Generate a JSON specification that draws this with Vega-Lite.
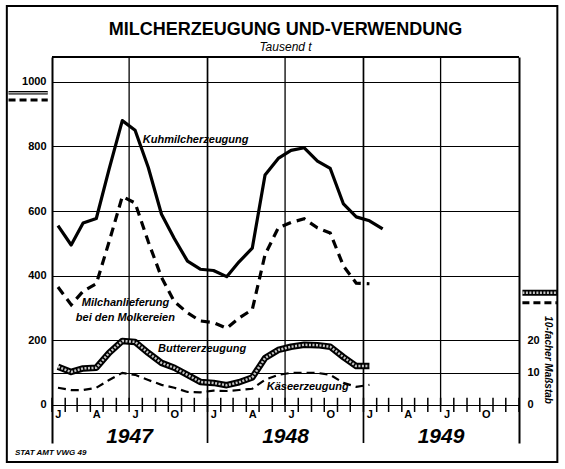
{
  "$schema": "https://vega.github.io/schema/vega-lite/v6.json",
  "width": 467,
  "height": 386,
  "autosize": {"type": "none"},
  "padding": {"left": 52, "top": 57, "right": 46, "bottom": 26},
  "background": "white",
  "config": {"view": {"stroke": null}, "font": "Liberation Sans"},
  "title": {"text": "MILCHERZEUGUNG UND-VERWENDUNG", "subtitle": "Tausend t", "frame": "group", "fontSize": 18, "fontWeight": "bold", "font": "Liberation Sans", "color": "black", "subtitleFont": "Liberation Sans", "subtitleFontStyle": "italic", "subtitleFontSize": 12, "subtitleColor": "black", "subtitlePadding": 3, "anchor": "middle", "offset": 4, "dy": 52},
  "datasets": {
    "kuh": [
      {"d": "1947-01-15", "v": 555}, {"d": "1947-02-15", "v": 495}, {"d": "1947-03-15", "v": 563}, {"d": "1947-04-15", "v": 577},
      {"d": "1947-05-15", "v": 730}, {"d": "1947-06-15", "v": 880}, {"d": "1947-07-15", "v": 850}, {"d": "1947-08-15", "v": 735},
      {"d": "1947-09-15", "v": 590}, {"d": "1947-10-15", "v": 515}, {"d": "1947-11-15", "v": 445}, {"d": "1947-12-15", "v": 420},
      {"d": "1948-01-15", "v": 416}, {"d": "1948-02-15", "v": 397}, {"d": "1948-03-15", "v": 443}, {"d": "1948-04-15", "v": 485},
      {"d": "1948-05-15", "v": 712}, {"d": "1948-06-15", "v": 763}, {"d": "1948-07-15", "v": 788}, {"d": "1948-08-15", "v": 796},
      {"d": "1948-09-15", "v": 755}, {"d": "1948-10-15", "v": 732}, {"d": "1948-11-15", "v": 622}, {"d": "1948-12-15", "v": 582},
      {"d": "1949-01-15", "v": 570}, {"d": "1949-02-15", "v": 545}
    ],
    "anl": [
      {"d": "1947-01-15", "v": 365}, {"d": "1947-02-15", "v": 310}, {"d": "1947-03-15", "v": 352}, {"d": "1947-04-15", "v": 375},
      {"d": "1947-05-15", "v": 505}, {"d": "1947-06-15", "v": 645}, {"d": "1947-07-15", "v": 625}, {"d": "1947-08-15", "v": 505},
      {"d": "1947-09-15", "v": 395}, {"d": "1947-10-15", "v": 320}, {"d": "1947-11-15", "v": 285}, {"d": "1947-12-15", "v": 260},
      {"d": "1948-01-15", "v": 255}, {"d": "1948-02-15", "v": 237}, {"d": "1948-03-15", "v": 269}, {"d": "1948-04-15", "v": 295},
      {"d": "1948-05-15", "v": 465}, {"d": "1948-06-15", "v": 548}, {"d": "1948-07-15", "v": 565}, {"d": "1948-08-15", "v": 576},
      {"d": "1948-09-15", "v": 548}, {"d": "1948-10-15", "v": 532}, {"d": "1948-11-15", "v": 430}, {"d": "1948-12-15", "v": 377},
      {"d": "1949-01-15", "v": 375}
    ],
    "butter": [
      {"d": "1947-01-15", "v": 11.8}, {"d": "1947-02-15", "v": 10.2}, {"d": "1947-03-15", "v": 11.3}, {"d": "1947-04-15", "v": 11.5},
      {"d": "1947-05-15", "v": 16.1}, {"d": "1947-06-15", "v": 19.8}, {"d": "1947-07-15", "v": 19.5}, {"d": "1947-08-15", "v": 16.1},
      {"d": "1947-09-15", "v": 13.0}, {"d": "1947-10-15", "v": 11.5}, {"d": "1947-11-15", "v": 9.3}, {"d": "1947-12-15", "v": 7.1},
      {"d": "1948-01-15", "v": 6.8}, {"d": "1948-02-15", "v": 6.1}, {"d": "1948-03-15", "v": 7.0}, {"d": "1948-04-15", "v": 8.5},
      {"d": "1948-05-15", "v": 14.5}, {"d": "1948-06-15", "v": 17.0}, {"d": "1948-07-15", "v": 18.0}, {"d": "1948-08-15", "v": 18.6},
      {"d": "1948-09-15", "v": 18.5}, {"d": "1948-10-15", "v": 18.0}, {"d": "1948-11-15", "v": 14.8}, {"d": "1948-12-15", "v": 12.0},
      {"d": "1949-01-15", "v": 12.0}
    ],
    "kaese": [
      {"d": "1947-01-15", "v": 5.3}, {"d": "1947-02-15", "v": 4.6}, {"d": "1947-03-15", "v": 4.6}, {"d": "1947-04-15", "v": 5.3},
      {"d": "1947-05-15", "v": 7.7}, {"d": "1947-06-15", "v": 9.9}, {"d": "1947-07-15", "v": 9.3}, {"d": "1947-08-15", "v": 7.7},
      {"d": "1947-09-15", "v": 6.2}, {"d": "1947-10-15", "v": 5.3}, {"d": "1947-11-15", "v": 4.0}, {"d": "1947-12-15", "v": 3.9},
      {"d": "1948-01-15", "v": 4.4}, {"d": "1948-02-15", "v": 4.3}, {"d": "1948-03-15", "v": 4.6}, {"d": "1948-04-15", "v": 5.0},
      {"d": "1948-05-15", "v": 7.8}, {"d": "1948-06-15", "v": 9.3}, {"d": "1948-07-15", "v": 9.9}, {"d": "1948-08-15", "v": 9.9},
      {"d": "1948-09-15", "v": 9.9}, {"d": "1948-10-15", "v": 9.3}, {"d": "1948-11-15", "v": 6.8}, {"d": "1948-12-15", "v": 5.6},
      {"d": "1949-01-15", "v": 6.2}
    ],
    "half": [{"d": "1947-07-01"}, {"d": "1948-07-01"}, {"d": "1949-07-01"}],
    "ybound": [{"d": "1948-01-01"}, {"d": "1949-01-01"}],
    "mstart": [
      {"d": "1947-01-01"}, {"d": "1947-02-01"}, {"d": "1947-03-01"}, {"d": "1947-04-01"}, {"d": "1947-05-01"}, {"d": "1947-06-01"},
      {"d": "1947-07-01"}, {"d": "1947-08-01"}, {"d": "1947-09-01"}, {"d": "1947-10-01"}, {"d": "1947-11-01"}, {"d": "1947-12-01"},
      {"d": "1948-01-01"}, {"d": "1948-02-01"}, {"d": "1948-03-01"}, {"d": "1948-04-01"}, {"d": "1948-05-01"}, {"d": "1948-06-01"},
      {"d": "1948-07-01"}, {"d": "1948-08-01"}, {"d": "1948-09-01"}, {"d": "1948-10-01"}, {"d": "1948-11-01"}, {"d": "1948-12-01"},
      {"d": "1949-01-01"}, {"d": "1949-02-01"}, {"d": "1949-03-01"}, {"d": "1949-04-01"}, {"d": "1949-05-01"}, {"d": "1949-06-01"},
      {"d": "1949-07-01"}, {"d": "1949-08-01"}, {"d": "1949-09-01"}, {"d": "1949-10-01"}, {"d": "1949-11-01"}, {"d": "1949-12-01"},
      {"d": "1950-01-01"}
    ],
    "mlab": [
      {"d": "1947-01-16", "t": "J"}, {"d": "1947-04-16", "t": "A"}, {"d": "1947-07-16", "t": "J"}, {"d": "1947-10-16", "t": "O"},
      {"d": "1948-01-16", "t": "J"}, {"d": "1948-04-16", "t": "A"}, {"d": "1948-07-16", "t": "J"}, {"d": "1948-10-16", "t": "O"},
      {"d": "1949-01-16", "t": "J"}, {"d": "1949-04-16", "t": "A"}, {"d": "1949-07-16", "t": "J"}, {"d": "1949-10-16", "t": "O"}
    ],
    "ylab": [{"d": "1947-07-02", "t": "1947"}, {"d": "1948-07-02", "t": "1948"}, {"d": "1949-07-02", "t": "1949"}],
    "notes": [
      {"d": "1947-08-02", "v": 820, "t": "Kuhmilcherzeugung"},
      {"d": "1947-03-12", "v": 316, "t": "Milchanlieferung"},
      {"d": "1947-02-26", "v": 269, "t": "bei den Molkereien"},
      {"d": "1947-09-07", "v": 173, "t": "Buttererzeugung"},
      {"d": "1948-05-19", "v": 56, "t": "Käseerzeugung"}
    ]
  },
  "layer": [
    {
      "data": {"name": "kuh"},
      "mark": {"type": "line", "stroke": "black", "strokeWidth": 3.2, "strokeJoin": "round"},
      "encoding": {
        "x": {"field": "d", "type": "temporal", "scale": {"type": "utc", "domain": [{"year": 1947, "month": 1, "date": 1, "utc": true}, {"year": 1950, "month": 1, "date": 1, "utc": true}]}, "axis": null},
        "y": {"field": "v", "type": "quantitative", "scale": {"domain": [-118, 1077], "nice": false, "zero": false},
          "axis": {"orient": "left", "values": [0, 100, 200, 400, 600, 800, 1000], "labelExpr": "datum.value == 100 ? '' : datum.label", "format": "d", "grid": true, "gridColor": "black", "gridWidth": 1.2, "gridOpacity": 1, "ticks": false, "domain": true, "domainColor": "black", "domainWidth": 2, "labelFont": "Liberation Sans", "labelFontSize": 11, "labelFontWeight": "bold", "labelColor": "black", "labelPadding": 6, "title": null}}
      }
    },
    {
      "data": {"name": "half"},
      "mark": {"type": "rule", "stroke": "black", "strokeWidth": 1.3},
      "encoding": {
        "x": {"field": "d", "type": "temporal", "scale": {"type": "utc", "domain": [{"year": 1947, "month": 1, "date": 1, "utc": true}, {"year": 1950, "month": 1, "date": 1, "utc": true}]}, "axis": null},
        "y": {"datum": 0, "type": "quantitative", "scale": {"domain": [-118, 1077], "nice": false, "zero": false}, "axis": null},
        "y2": {"datum": 1077}
      }
    },
    {
      "data": {"name": "ybound"},
      "mark": {"type": "rule", "stroke": "black", "strokeWidth": 1.7},
      "encoding": {
        "x": {"field": "d", "type": "temporal", "scale": {"type": "utc", "domain": [{"year": 1947, "month": 1, "date": 1, "utc": true}, {"year": 1950, "month": 1, "date": 1, "utc": true}]}, "axis": null},
        "y": {"datum": -118, "type": "quantitative", "scale": {"domain": [-118, 1077], "nice": false, "zero": false}, "axis": null},
        "y2": {"datum": 1077}
      }
    },
    {
      "data": {"values": [{}]},
      "mark": {"type": "rule", "stroke": "black", "strokeWidth": 2},
      "encoding": {
        "x": {"datum": {"year": 1947, "month": 1, "date": 1, "utc": true}, "type": "temporal", "scale": {"type": "utc", "domain": [{"year": 1947, "month": 1, "date": 1, "utc": true}, {"year": 1950, "month": 1, "date": 1, "utc": true}]}, "axis": null},
        "x2": {"datum": {"year": 1950, "month": 1, "date": 1, "utc": true}},
        "y": {"datum": 1077, "type": "quantitative", "scale": {"domain": [-118, 1077], "nice": false, "zero": false}, "axis": null}
      }
    },
    {
      "data": {"name": "mstart"},
      "mark": {"type": "rule", "stroke": "black", "strokeWidth": 1.5},
      "encoding": {
        "x": {"field": "d", "type": "temporal", "scale": {"type": "utc", "domain": [{"year": 1947, "month": 1, "date": 1, "utc": true}, {"year": 1950, "month": 1, "date": 1, "utc": true}]}, "axis": null},
        "y": {"datum": 22, "type": "quantitative", "scale": {"domain": [-118, 1077], "nice": false, "zero": false}, "axis": null},
        "y2": {"datum": -22}
      }
    },
    {
      "data": {"name": "anl"},
      "mark": {"type": "line", "stroke": "black", "strokeWidth": 3.2, "strokeDash": [9, 6]},
      "encoding": {
        "x": {"field": "d", "type": "temporal", "scale": {"type": "utc", "domain": [{"year": 1947, "month": 1, "date": 1, "utc": true}, {"year": 1950, "month": 1, "date": 1, "utc": true}]}, "axis": null},
        "y": {"field": "v", "type": "quantitative", "scale": {"domain": [-118, 1077], "nice": false, "zero": false}, "axis": null}
      }
    },
    {
      "data": {"name": "notes"},
      "mark": {"type": "text", "align": "left", "baseline": "middle", "font": "Liberation Sans", "fontStyle": "italic", "fontWeight": "bold", "fontSize": 11, "color": "black"},
      "encoding": {
        "x": {"field": "d", "type": "temporal", "scale": {"type": "utc", "domain": [{"year": 1947, "month": 1, "date": 1, "utc": true}, {"year": 1950, "month": 1, "date": 1, "utc": true}]}, "axis": null},
        "y": {"field": "v", "type": "quantitative", "scale": {"domain": [-118, 1077], "nice": false, "zero": false}, "axis": null},
        "text": {"field": "t"}
      }
    },
    {
      "data": {"name": "mlab"},
      "mark": {"type": "text", "align": "center", "baseline": "middle", "font": "Liberation Sans", "fontWeight": "bold", "fontSize": 11, "color": "black"},
      "encoding": {
        "x": {"field": "d", "type": "temporal", "scale": {"type": "utc", "domain": [{"year": 1947, "month": 1, "date": 1, "utc": true}, {"year": 1950, "month": 1, "date": 1, "utc": true}]}, "axis": null},
        "y": {"datum": -31, "type": "quantitative", "scale": {"domain": [-118, 1077], "nice": false, "zero": false}, "axis": null},
        "text": {"field": "t"}
      }
    },
    {
      "data": {"name": "ylab"},
      "mark": {"type": "text", "align": "center", "baseline": "middle", "font": "Liberation Sans", "fontWeight": "bold", "fontStyle": "italic", "fontSize": 21, "color": "black"},
      "encoding": {
        "x": {"field": "d", "type": "temporal", "scale": {"type": "utc", "domain": [{"year": 1947, "month": 1, "date": 1, "utc": true}, {"year": 1950, "month": 1, "date": 1, "utc": true}]}, "axis": null},
        "y": {"datum": -99, "type": "quantitative", "scale": {"domain": [-118, 1077], "nice": false, "zero": false}, "axis": null},
        "text": {"field": "t"}
      }
    },
    {
      "data": {"values": [{}]},
      "mark": {"type": "rule", "stroke": "black", "strokeWidth": 3.5},
      "encoding": {
        "x": {"datum": {"year": 1946, "month": 9, "date": 21, "utc": true}, "type": "temporal", "scale": {"type": "utc", "domain": [{"year": 1947, "month": 1, "date": 1, "utc": true}, {"year": 1950, "month": 1, "date": 1, "utc": true}]}, "axis": null},
        "x2": {"datum": {"year": 1946, "month": 12, "date": 22, "utc": true}},
        "y": {"datum": 966, "type": "quantitative", "scale": {"domain": [-118, 1077], "nice": false, "zero": false}, "axis": null}
      }
    },
    {
      "data": {"values": [{}]},
      "mark": {"type": "rule", "stroke": "white", "strokeWidth": 1},
      "encoding": {
        "x": {"datum": {"year": 1946, "month": 9, "date": 21, "utc": true}, "type": "temporal", "scale": {"type": "utc", "domain": [{"year": 1947, "month": 1, "date": 1, "utc": true}, {"year": 1950, "month": 1, "date": 1, "utc": true}]}, "axis": null},
        "x2": {"datum": {"year": 1946, "month": 12, "date": 22, "utc": true}},
        "y": {"datum": 966, "type": "quantitative", "scale": {"domain": [-118, 1077], "nice": false, "zero": false}, "axis": null}
      }
    },
    {
      "data": {"values": [{}]},
      "mark": {"type": "rule", "stroke": "black", "strokeWidth": 3, "strokeDash": [7, 4]},
      "encoding": {
        "x": {"datum": {"year": 1946, "month": 9, "date": 21, "utc": true}, "type": "temporal", "scale": {"type": "utc", "domain": [{"year": 1947, "month": 1, "date": 1, "utc": true}, {"year": 1950, "month": 1, "date": 1, "utc": true}]}, "axis": null},
        "x2": {"datum": {"year": 1946, "month": 12, "date": 22, "utc": true}},
        "y": {"datum": 944, "type": "quantitative", "scale": {"domain": [-118, 1077], "nice": false, "zero": false}, "axis": null}
      }
    },
    {
      "data": {"values": [{}]},
      "mark": {"type": "text", "text": "STAT AMT VWG 49", "align": "left", "baseline": "middle", "font": "Liberation Sans", "fontWeight": "bold", "fontStyle": "italic", "fontSize": 8, "color": "black"},
      "encoding": {
        "x": {"datum": {"year": 1946, "month": 10, "date": 6, "utc": true}, "type": "temporal", "scale": {"type": "utc", "domain": [{"year": 1947, "month": 1, "date": 1, "utc": true}, {"year": 1950, "month": 1, "date": 1, "utc": true}]}, "axis": null},
        "y": {"datum": -149, "type": "quantitative", "scale": {"domain": [-118, 1077], "nice": false, "zero": false}, "axis": null}
      }
    },
    {
      "data": {"values": [{}]},
      "mark": {"type": "rect", "fillOpacity": 0, "stroke": "black", "strokeWidth": 2},
      "encoding": {
        "x": {"datum": {"year": 1946, "month": 9, "date": 17, "utc": true}, "type": "temporal", "scale": {"type": "utc", "domain": [{"year": 1947, "month": 1, "date": 1, "utc": true}, {"year": 1950, "month": 1, "date": 1, "utc": true}]}, "axis": null},
        "x2": {"datum": {"year": 1950, "month": 4, "date": 1, "utc": true}},
        "y": {"datum": 1235, "type": "quantitative", "scale": {"domain": [-118, 1077], "nice": false, "zero": false}, "axis": null},
        "y2": {"datum": -177}
      }
    },
    {
      "data": {"name": "butter"},
      "mark": {"type": "line", "stroke": "black", "strokeWidth": 6.5, "strokeJoin": "round"},
      "encoding": {
        "x": {"field": "d", "type": "temporal", "scale": {"type": "utc", "domain": [{"year": 1947, "month": 1, "date": 1, "utc": true}, {"year": 1950, "month": 1, "date": 1, "utc": true}]}, "axis": null},
        "y": {"field": "v", "type": "quantitative", "scale": {"domain": [-11.8, 107.7], "nice": false, "zero": false},
          "axis": {"orient": "right", "values": [0, 10, 20], "format": "d", "grid": false, "ticks": false, "domain": true, "domainColor": "black", "domainWidth": 2, "labelFont": "Liberation Sans", "labelFontSize": 11, "labelFontWeight": "bold", "labelColor": "black", "labelPadding": 8, "title": null}}
      }
    },
    {
      "data": {"name": "butter"},
      "mark": {"type": "line", "stroke": "#c4c4c4", "strokeWidth": 2.5, "strokeDash": [2, 1.5], "strokeJoin": "round"},
      "encoding": {
        "x": {"field": "d", "type": "temporal", "scale": {"type": "utc", "domain": [{"year": 1947, "month": 1, "date": 1, "utc": true}, {"year": 1950, "month": 1, "date": 1, "utc": true}]}, "axis": null},
        "y": {"field": "v", "type": "quantitative", "scale": {"domain": [-11.8, 107.7], "nice": false, "zero": false}, "axis": null}
      }
    },
    {
      "data": {"name": "kaese"},
      "mark": {"type": "line", "stroke": "black", "strokeWidth": 2.2, "strokeDash": [8, 5]},
      "encoding": {
        "x": {"field": "d", "type": "temporal", "scale": {"type": "utc", "domain": [{"year": 1947, "month": 1, "date": 1, "utc": true}, {"year": 1950, "month": 1, "date": 1, "utc": true}]}, "axis": null},
        "y": {"field": "v", "type": "quantitative", "scale": {"domain": [-11.8, 107.7], "nice": false, "zero": false}, "axis": null}
      }
    },
    {
      "data": {"values": [{}]},
      "mark": {"type": "rule", "stroke": "black", "strokeWidth": 6},
      "encoding": {
        "x": {"datum": {"year": 1950, "month": 1, "date": 9, "utc": true}, "type": "temporal", "scale": {"type": "utc", "domain": [{"year": 1947, "month": 1, "date": 1, "utc": true}, {"year": 1950, "month": 1, "date": 1, "utc": true}]}, "axis": null},
        "x2": {"datum": {"year": 1950, "month": 3, "date": 31, "utc": true}},
        "y": {"datum": 34.7, "type": "quantitative", "scale": {"domain": [-11.8, 107.7], "nice": false, "zero": false}, "axis": null}
      }
    },
    {
      "data": {"values": [{}]},
      "mark": {"type": "rule", "stroke": "#c4c4c4", "strokeWidth": 2.5, "strokeDash": [2, 1.5]},
      "encoding": {
        "x": {"datum": {"year": 1950, "month": 1, "date": 9, "utc": true}, "type": "temporal", "scale": {"type": "utc", "domain": [{"year": 1947, "month": 1, "date": 1, "utc": true}, {"year": 1950, "month": 1, "date": 1, "utc": true}]}, "axis": null},
        "x2": {"datum": {"year": 1950, "month": 3, "date": 31, "utc": true}},
        "y": {"datum": 34.7, "type": "quantitative", "scale": {"domain": [-11.8, 107.7], "nice": false, "zero": false}, "axis": null}
      }
    },
    {
      "data": {"values": [{}]},
      "mark": {"type": "rule", "stroke": "black", "strokeWidth": 3, "strokeDash": [7, 4]},
      "encoding": {
        "x": {"datum": {"year": 1950, "month": 1, "date": 9, "utc": true}, "type": "temporal", "scale": {"type": "utc", "domain": [{"year": 1947, "month": 1, "date": 1, "utc": true}, {"year": 1950, "month": 1, "date": 1, "utc": true}]}, "axis": null},
        "x2": {"datum": {"year": 1950, "month": 3, "date": 31, "utc": true}},
        "y": {"datum": 31.6, "type": "quantitative", "scale": {"domain": [-11.8, 107.7], "nice": false, "zero": false}, "axis": null}
      }
    },
    {
      "data": {"values": [{}]},
      "mark": {"type": "text", "text": "10-facher Maßstab", "angle": 90, "align": "center", "baseline": "middle", "font": "Liberation Sans", "fontWeight": "bold", "fontStyle": "italic", "fontSize": 10, "color": "black"},
      "encoding": {
        "x": {"datum": {"year": 1950, "month": 3, "date": 10, "utc": true}, "type": "temporal", "scale": {"type": "utc", "domain": [{"year": 1947, "month": 1, "date": 1, "utc": true}, {"year": 1950, "month": 1, "date": 1, "utc": true}]}, "axis": null},
        "y": {"datum": 13.9, "type": "quantitative", "scale": {"domain": [-11.8, 107.7], "nice": false, "zero": false}, "axis": null}
      }
    }
  ],
  "resolve": {"scale": {"y": "independent"}, "axis": {"y": "independent"}}
}
